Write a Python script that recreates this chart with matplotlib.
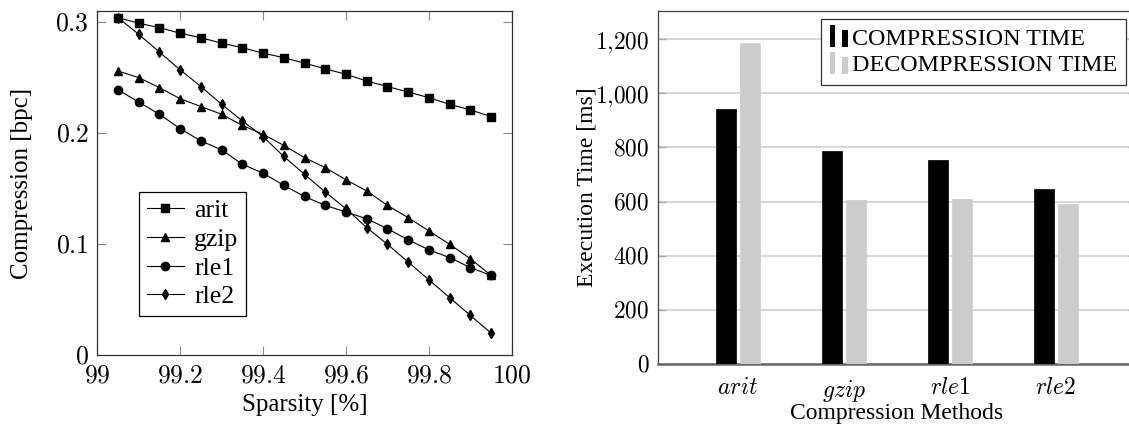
import matplotlib
matplotlib.use('Agg')
import matplotlib.pyplot as plt
from matplotlib.legend_handler import HandlerBase
from matplotlib.patches import Rectangle
from matplotlib.ticker import FuncFormatter, FixedLocator

plt.rcParams['font.family'] = ['Liberation Serif', 'DejaVu Serif']
plt.rcParams['mathtext.fontset'] = 'cm'

# ---------------- data ----------------
sparsity = [99.05, 99.10, 99.15, 99.20, 99.25, 99.30, 99.35, 99.40, 99.45, 99.50,
            99.55, 99.60, 99.65, 99.70, 99.75, 99.80, 99.85, 99.90, 99.95]
arit = [0.304, 0.299, 0.295, 0.290, 0.286, 0.281, 0.277, 0.272, 0.268, 0.263,
        0.258, 0.253, 0.247, 0.242, 0.237, 0.232, 0.226, 0.221, 0.215]
gzip = [0.256, 0.250, 0.241, 0.231, 0.224, 0.217, 0.207, 0.199, 0.189, 0.178,
        0.169, 0.158, 0.148, 0.135, 0.124, 0.112, 0.100, 0.087, 0.072]
rle1 = [0.239, 0.228, 0.217, 0.204, 0.193, 0.185, 0.172, 0.164, 0.153, 0.143,
        0.135, 0.129, 0.123, 0.114, 0.104, 0.095, 0.088, 0.079, 0.072]
rle2 = [0.304, 0.289, 0.273, 0.257, 0.242, 0.226, 0.211, 0.197, 0.179, 0.163,
        0.147, 0.132, 0.115, 0.100, 0.084, 0.068, 0.052, 0.036, 0.020]

left_xticks = [99, 99.2, 99.4, 99.6, 99.8, 100]
left_yticks = [0, 0.1, 0.2, 0.3]

methods = ['arit', 'gzip', 'rle1', 'rle2']
method_labels = [r'$arit$', r'$gzip$', r'$rle1$', r'$rle2$']
comp_time = [941, 785, 752, 646]
decomp_time = [1186, 607, 610, 592]
right_yticks = [0, 200, 400, 600, 800, 1000, 1200]

# ---------------- figure ----------------
W, H = 1129, 424
fig = plt.figure(figsize=(W / 100, H / 100), dpi=100)

def px_axes(l, t, r, b):
    return [l / W, (H - b) / H, (r - l) / W, (b - t) / H]

# ----- left plot -----
ax1 = fig.add_axes(px_axes(97.3, 11, 511.7, 355.3))
series = [('arit', arit, 's', 6), ('gzip', gzip, '^', 5.5),
          ('rle1', rle1, 'o', 6), ('rle2', rle2, 'd', 5.5)]
for name, vals, mk, ms in series:
    ax1.plot(sparsity, vals, color='black', lw=0.8, marker=mk, ms=ms,
             markerfacecolor='black', markeredgecolor='black', label=name)
ax1.set_xlim(99, 100)
ax1.set_ylim(0, 0.31)
ax1.xaxis.set_major_locator(FixedLocator(left_xticks))
ax1.yaxis.set_major_locator(FixedLocator(left_yticks))
ax1.xaxis.set_major_formatter(FuncFormatter(lambda v, p: r'$%g$' % v))
ax1.yaxis.set_major_formatter(FuncFormatter(lambda v, p: r'$%g$' % v))
ax1.tick_params(axis='both', direction='in', length=6.5, width=0.8, color='#888888',
                top=True, right=True, labelsize=18.5)
ax1.tick_params(axis='x', pad=7)
ax1.tick_params(axis='y', pad=6)
for s in ax1.spines.values():
    s.set_color('#333333')
    s.set_linewidth(0.9)
ax1.set_xlabel('Sparsity [%]', fontsize=18)
ax1.xaxis.set_label_coords(0.5, (355.3 - 411) / 344.3)
ax1.xaxis.label.set_va('baseline')
ax1.set_ylabel('Compression [bpc]', fontsize=18)
ax1.yaxis.set_label_coords((22.5 - 97.3) / 414.4, 0.5)
ax1.yaxis.label.set_va('center')
leg1 = ax1.legend(loc='lower left', bbox_to_anchor=((139 - 97.3) / 414.4, (355.3 - 316) / 344.3),
                  borderaxespad=0, fontsize=18.5, fancybox=False, frameon=True,
                  edgecolor='black', framealpha=1, handlelength=1.45, handletextpad=0.4,
                  labelspacing=0.22, borderpad=0.3, numpoints=1)
leg1.get_frame().set_linewidth(0.9)

# ----- right plot -----
ax2 = fig.add_axes(px_axes(657.7, 11, 1136, 364))
x = list(range(len(methods)))
bw = 0.19
off = 0.114
b1 = ax2.bar([i - off for i in x], comp_time, width=bw, color='black', edgecolor='black',
             linewidth=0.5, zorder=3, label='COMPRESSION TIME')
b2 = ax2.bar([i + off for i in x], decomp_time, width=bw, color='#cccccc', edgecolor='#cccccc',
             linewidth=0.5, zorder=3, label='DECOMPRESSION TIME')
ax2.set_xlim(-0.757, 3.757)
ax2.set_ylim(0, 1304)
ax2.set_xticks(x)
ax2.set_xticklabels(method_labels)
ax2.yaxis.set_major_locator(FixedLocator(right_yticks))
ax2.yaxis.set_major_formatter(FuncFormatter(lambda v, p: r'$%s$' % ('{:,}'.format(int(v)).replace(',', '{,}'))))
ax2.grid(axis='y', color='#d4d4d4', lw=1.3, zorder=0)
ax2.tick_params(axis='x', length=0, pad=10, labelsize=17)
ax2.tick_params(axis='y', direction='in', length=6, width=1, color='#aaaaaa',
                right=True, pad=6, labelsize=16.8)
ax2.spines['left'].set_color('#444444')
ax2.spines['top'].set_color('#444444')
ax2.spines['right'].set_color('#444444')
ax2.spines['bottom'].set_color('#666666')
ax2.spines['bottom'].set_linewidth(1.8)
for k in ('left', 'top', 'right'):
    ax2.spines[k].set_linewidth(0.9)
ax2.set_axisbelow(True)

ax2.set_xlabel('Compression Methods', fontsize=17)
ax2.xaxis.set_label_coords(0.5, (364 - 418.5) / 353)
ax2.xaxis.label.set_va('baseline')
ax2.set_ylabel('Execution Time [ms]', fontsize=17)
ax2.yaxis.set_label_coords((586.5 - 657.7) / (1136 - 657.7), 0.5)
ax2.yaxis.label.set_va('center')


class TwoBarHandler(HandlerBase):
    def create_artists(self, legend, orig_handle, xdescent, ydescent, width, height,
                       fontsize, trans):
        c = orig_handle.patches[0].get_facecolor()
        x0, y0 = -xdescent, -ydescent - 0.15 * height
        w1 = width * 0.3
        r1 = Rectangle((x0, y0), w1, height * 1.3, facecolor=c, edgecolor='none', transform=trans)
        r2 = Rectangle((x0 + width * 0.65, y0), width * 0.35, height * 1.0, facecolor=c,
                       edgecolor='none', transform=trans)
        return [r1, r2]


leg2 = ax2.legend([b1, b2], ['COMPRESSION TIME', 'DECOMPRESSION TIME'], loc='upper right',
                  bbox_to_anchor=((1125.7 - 657.7) / (1136 - 657.7), (364 - 19.3) / 353),
                  borderaxespad=0, fontsize=17.3, fancybox=False, frameon=True,
                  edgecolor='#333333', framealpha=1, handlelength=0.78, handletextpad=0.15,
                  labelspacing=0.2, borderpad=0.35,
                  handler_map={type(b1): TwoBarHandler()})
leg2.get_frame().set_linewidth(0.9)

fig.savefig('out.png', dpi=100)
